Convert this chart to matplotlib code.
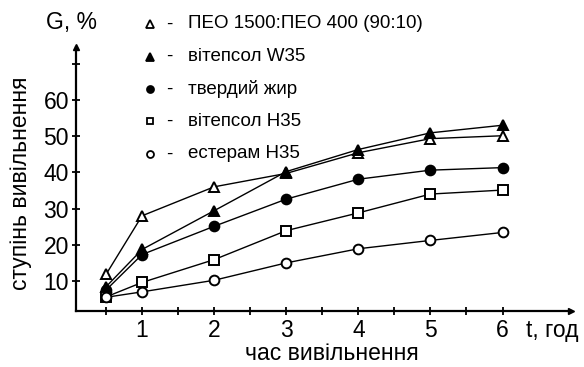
import matplotlib
matplotlib.use("Agg")
from matplotlib import pyplot as plt

plt.rcParams['font.family'] = ['Liberation Sans', 'DejaVu Sans']

t = [0.5, 1, 2, 3, 4, 5, 6]
peo = [11.8, 28.0, 36.0, 39.7, 45.4, 49.3, 50.1]
witepsol_w35 = [8.4, 18.7, 29.4, 40.2, 46.3, 50.9, 53.0]
solid_fat = [7.5, 17.3, 25.1, 32.6, 38.1, 40.6, 41.3]
witepsol_h35 = [5.6, 9.6, 15.9, 23.9, 28.8, 34.0, 35.1]
esteram_h35 = [5.5, 7.0, 10.2, 15.0, 18.9, 21.2, 23.4]

labels = ["ПЕО 1500:ПЕО 400 (90:10)", "вітепсол W35", "твердий жир",
          "вітепсол H35", "естерам H35"]
series = [peo, witepsol_w35, solid_fat, witepsol_h35, esteram_h35]
markers = ['^', '^', 'o', 's', 'o']
filled = [False, True, True, False, False]

fig = plt.figure(figsize=(5.84, 3.67), dpi=100)
ax = fig.add_axes([76 / 584, 1 - 310.7 / 367, (571 - 76) / 584, (310.7 - 47) / 367])

for y, m, f in zip(series, markers, filled):
    ax.plot(t, y, '-', color='black', lw=1.0, marker=m, ms=7.5 if m == '^' else 7,
            mfc='black' if f else 'white', mec='black', mew=1.4)

ax.set_xlim(0.084, 6.95)
ax.set_ylim(1.8, 74.6)
ax.set_xticks([1, 2, 3, 4, 5, 6])
ax.set_xticks([0.5, 1.5, 2.5, 3.5, 4.5, 5.5], minor=True)
ax.set_yticks([10, 20, 30, 40, 50, 60, 70])
ax.set_yticklabels(['10', '20', '30', '40', '50', '60', ''])
ax.tick_params(axis='both', which='both', direction='inout', length=6, width=1.3,
               labelsize=16.5, pad=2)
ax.tick_params(axis='x', pad=3)
for s in ['top', 'right']:
    ax.spines[s].set_visible(False)
for s in ['left', 'bottom']:
    ax.spines[s].set_linewidth(1.6)

# axis arrows
ax.plot(1, 0, '>k', ms=5, transform=ax.transAxes, clip_on=False)
ax.plot(0, 1, '^k', ms=5, transform=ax.transAxes, clip_on=False)

fig.text(21 / 584, 1 - 183 / 367, "ступінь вивільнення", rotation=90,
         ha='center', va='center', fontsize=16.5)
fig.text(332 / 584, 1 - 354 / 367, "час вивільнення", ha='center', va='center',
         fontsize=16.5)
fig.text(72 / 584, 1 - 22 / 367, "G, %", ha='center', va='center', fontsize=16.5)
fig.text(552 / 584, 1 - 337 / 367, "t, год", ha='center', va='baseline', fontsize=16.5)

# legend
for i, (lab, m, f) in enumerate(zip(labels, markers, filled)):
    yy = 1 - (24 + 32.5 * i) / 367
    fig.add_artist(plt.Line2D([150 / 584], [yy], marker=m, ms=5.5 if m == '^' else 5,
                              mfc='black' if f else 'white', mec='black', mew=1.3,
                              ls='none', transform=fig.transFigure))
    fig.text(169 / 584, yy, "-", ha='center', va='center', fontsize=13.5)
    fig.text(188 / 584, yy, lab, ha='left', va='center', fontsize=13.5)

fig.savefig("out.png", dpi=100)
